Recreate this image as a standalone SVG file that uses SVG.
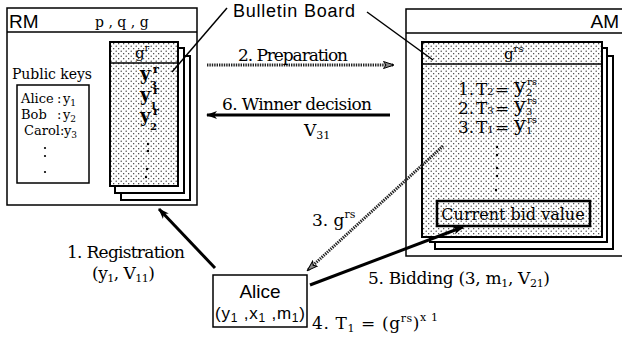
<svg xmlns="http://www.w3.org/2000/svg" width="622" height="343" viewBox="0 0 622 343">
<defs>
<style>
.sf{font-family:"DejaVu Serif","Liberation Serif",serif;fill:#000}
.ss{font-family:"Liberation Sans",Arial,sans-serif;fill:#000}
.box{fill:#fff;stroke:#000;stroke-width:1.5}
.page{fill:#fff;stroke:#000;stroke-width:2}
.front{fill:url(#dots);stroke:#000;stroke-width:2}
.solid{stroke:#000;stroke-width:3;fill:none}
.dotted{stroke:#222;stroke-width:3;fill:none;stroke-dasharray:1.4 1}
.thin{stroke:#000;stroke-width:1.5;fill:none}
</style>
<pattern id="dots" width="5" height="5" patternUnits="userSpaceOnUse">
<rect width="5" height="5" fill="#fff"/>
<circle cx="1.2" cy="1.2" r="0.65" fill="#222"/>
<circle cx="3.7" cy="3.7" r="0.65" fill="#222"/>
</pattern>
<marker id="ah" markerUnits="userSpaceOnUse" markerWidth="12" markerHeight="10" refX="10" refY="4" orient="auto">
<path d="M0,0 L11,4 L0,8 L3,4 z" fill="#000"/>
</marker>
<marker id="ahd" markerUnits="userSpaceOnUse" markerWidth="12" markerHeight="10" refX="10" refY="4" orient="auto">
<path d="M0.5,0.5 L11,4 L0.5,7.5 L3,4 z" fill="#888" stroke="#000" stroke-width="1"/>
</marker>
</defs>
<rect width="622" height="343" fill="#fff"/>

<!-- RM node -->
<g id="rm">
<rect class="box" x="7" y="8" width="190" height="197"/>
<line class="thin" x1="7" y1="32" x2="197" y2="32"/>
<text class="ss" x="9" y="28" font-size="19">RM</text>
<text class="sf" x="95" y="27" font-size="14">p , q , g</text>
<text class="sf" x="12" y="79" font-size="14" textLength="80">Public keys</text>
<rect class="box" x="17" y="85" width="72" height="98"/>
<g class="sf" font-size="13">
<text x="21" y="103">Alice<tspan x="57">:</tspan><tspan x="63">y</tspan><tspan font-size="9" dy="3">1</tspan></text>
<text x="21" y="119">Bob<tspan x="57">:</tspan><tspan x="63">y</tspan><tspan font-size="9" dy="3">2</tspan></text>
<text x="24" y="135">Carol:<tspan x="64">y</tspan><tspan font-size="9" dy="3">3</tspan></text>
</g>
<circle cx="45" cy="148" r="1.1"/><circle cx="45" cy="156" r="1.1"/><circle cx="45" cy="172" r="1.1"/>
<rect class="page" x="121" y="56" width="69" height="144"/>
<rect class="page" x="115" y="48" width="69" height="145"/>
<rect class="front" x="110" y="42" width="68" height="144"/>
<line class="thin" x1="110" y1="63" x2="178" y2="63" stroke-width="2"/>
<text class="sf" x="135" y="58" font-size="15">g<tspan font-size="10" dy="-7">r</tspan></text>
<g class="sf" font-weight="bold">
<text x="140" y="80" font-size="18">y<tspan x="153" font-size="11" dy="-7">r</tspan><tspan x="150" font-size="10" dy="15">3</tspan></text>
<text x="140" y="101" font-size="18">y<tspan x="153" font-size="11" dy="-7">r</tspan><tspan x="150" font-size="10" dy="15">1</tspan></text>
<text x="140" y="122" font-size="18">y<tspan x="153" font-size="11" dy="-7">r</tspan><tspan x="150" font-size="10" dy="15">2</tspan></text>
</g>
<circle cx="148" cy="144" r="1.2"/><circle cx="148" cy="151" r="1.2"/><circle cx="147" cy="169" r="1.2"/><circle cx="146" cy="177" r="1.2"/>
</g>

<!-- AM node -->
<g id="am">
<rect class="box" x="406" y="9" width="222" height="247"/>
<line class="thin" x1="406" y1="33" x2="622" y2="33"/>
<text class="ss" x="619" y="28" font-size="19" text-anchor="end">AM</text>
<rect class="page" x="435" y="56" width="178" height="193"/>
<rect class="page" x="430" y="48" width="177" height="194"/>
<rect class="front" x="422" y="42" width="180" height="195"/>
<line class="thin" x1="422" y1="64" x2="602" y2="64" stroke-width="2"/>
<text class="sf" x="504" y="59" font-size="15">g<tspan font-size="10" dy="-7">rs</tspan></text>
<g class="sf" font-size="17">
<text x="458" y="95">1.<tspan x="476">T</tspan><tspan font-size="10">2</tspan><tspan x="495">=</tspan><tspan x="514" font-size="21" dy="-2">y</tspan><tspan x="527" font-size="10" dy="-8">rs</tspan><tspan x="526" font-size="10" dy="11">2</tspan></text>
<text x="458" y="114">2.<tspan x="476">T</tspan><tspan font-size="10">3</tspan><tspan x="495">=</tspan><tspan x="514" font-size="21" dy="-2">y</tspan><tspan x="527" font-size="10" dy="-8">rs</tspan><tspan x="526" font-size="10" dy="11">3</tspan></text>
<text x="458" y="133">3.<tspan x="476">T</tspan><tspan font-size="10">1</tspan><tspan x="495">=</tspan><tspan x="514" font-size="21" dy="-2">y</tspan><tspan x="527" font-size="10" dy="-8">rs</tspan><tspan x="526" font-size="10" dy="11">1</tspan></text>
</g>
<circle cx="497" cy="147" r="1.2"/><circle cx="497" cy="155" r="1.2"/><circle cx="497" cy="168" r="1.2"/><circle cx="497" cy="176" r="1.2"/><circle cx="496" cy="190" r="1.2"/>
<rect x="437" y="201" width="153" height="25" fill="url(#dots)" stroke="#000" stroke-width="2.5"/>
<text class="sf" x="513" y="220" font-size="16" text-anchor="middle">Current bid value</text>
</g>

<!-- Bulletin Board label -->
<g id="bulletin-board">
<text class="ss" x="233" y="17" font-size="18" textLength="122">Bulletin Board</text>
<line class="thin" x1="227" y1="8" x2="172" y2="72"/>
<line class="thin" x1="367" y1="12" x2="433" y2="60"/>
</g>

<!-- Alice node -->
<g id="alice">
<rect class="box" x="213" y="275" width="94" height="52"/>
<text class="ss" x="260" y="298" font-size="19" text-anchor="middle">Alice</text>
<text class="ss" x="215" y="319" font-size="17" textLength="90">(y<tspan font-size="12" dy="3">1</tspan><tspan dy="-3"> ,x</tspan><tspan font-size="12" dy="3">1</tspan><tspan dy="-3"> ,m</tspan><tspan font-size="12" dy="3">1</tspan><tspan dy="-3">)</tspan></text>
</g>

<!-- connectors -->
<g id="connectors">
<line class="dotted" x1="207" y1="65" x2="393" y2="65" marker-end="url(#ahd)"/>
<line class="solid" x1="390" y1="115" x2="207" y2="115" marker-end="url(#ah)"/>
<line class="solid" x1="215" y1="268" x2="159" y2="209" marker-end="url(#ah)"/>
<line class="dotted" x1="443" y1="146" x2="308" y2="270" marker-end="url(#ahd)"/>
<line class="solid" x1="310" y1="285" x2="463" y2="227" marker-end="url(#ah)"/>
</g>

<!-- connector labels -->
<g id="labels" class="sf" font-size="17">
<text x="238" y="61" textLength="110">2. Preparation</text>
<text x="222" y="110" textLength="150">6. Winner decision</text>
<text x="304" y="136">V<tspan font-size="11" dy="3">31</tspan></text>
<text x="67" y="258" textLength="118">1. Registration</text>
<text x="92" y="279" textLength="63">(y<tspan font-size="11" dy="3">1</tspan><tspan dy="-3">, V</tspan><tspan font-size="11" dy="3">11</tspan><tspan dy="-3">)</tspan></text>
<text x="312" y="226">3. g<tspan font-size="11" dy="-8">rs</tspan></text>
<text x="368" y="284" textLength="182">5. Bidding  (3, m<tspan font-size="11" dy="3">1</tspan><tspan dy="-3">, V</tspan><tspan font-size="11" dy="3">21</tspan><tspan dy="-3">)</tspan></text>
<text x="312" y="329" textLength="126">4. T<tspan font-size="11" dy="3">1</tspan><tspan dy="-3"> = (g</tspan><tspan font-size="11" dy="-7">rs</tspan><tspan dy="7">)</tspan><tspan font-size="11" dy="-8">x 1</tspan></text>
</g>
</svg>
